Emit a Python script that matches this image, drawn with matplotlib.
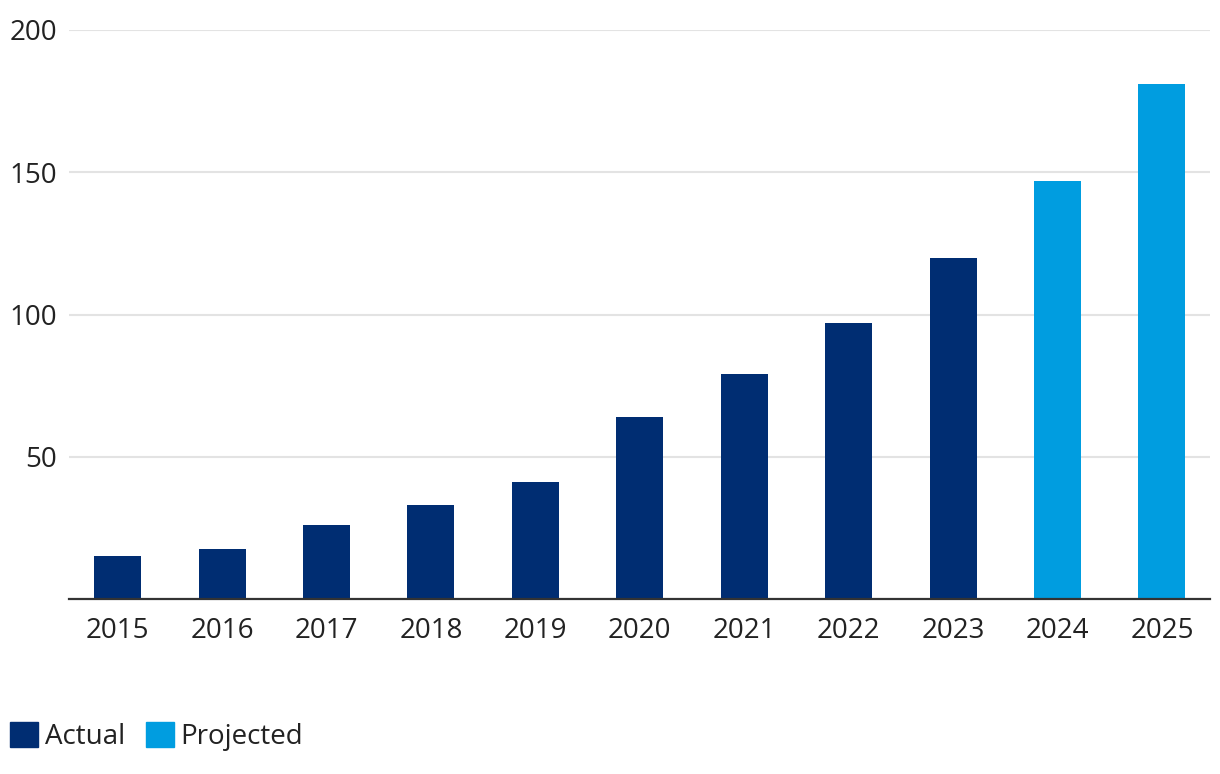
import matplotlib.pyplot as plt
from matplotlib.patches import Patch

plt.rcParams["font.family"] = ["Open Sans", "DejaVu Sans"]

years = ["2015", "2016", "2017", "2018", "2019", "2020",
         "2021", "2022", "2023", "2024", "2025"]
values = [15, 17.5, 26, 33, 41, 64, 79, 97, 120, 147, 181]
projected = [False] * 9 + [True] * 2
yticks = [50, 100, 150, 200]

NAVY = "#002D72"
LIGHT = "#009DE0"

fig = plt.figure(figsize=(12.2, 7.74), dpi=100)
ax = fig.add_axes([69 / 1220, 1 - 599 / 774, 1141 / 1220, 569 / 774])

colors = [LIGHT if p else NAVY for p in projected]
x = range(len(years))
ax.bar(x, values, width=0.45, color=colors, zorder=3)

ax.set_xlim(-0.465, len(years) - 1 + 0.46)
ax.set_ylim(0, 200)
ax.set_yticks(yticks)
ax.set_xticks(list(x))
ax.set_xticklabels(years)
ax.grid(axis="y", color="#e3e3e3", linewidth=1.5, zorder=0)
ax.tick_params(axis="both", length=0, labelsize=20, colors="#222222")
ax.tick_params(axis="y", pad=8.5)
ax.tick_params(axis="x", pad=13)
for side in ["top", "right", "left"]:
    ax.spines[side].set_visible(False)
ax.spines["bottom"].set_color("#333333")
ax.spines["bottom"].set_linewidth(1.6)
ax.spines["bottom"].set_zorder(4)

handles = [Patch(color=NAVY, label="Actual"), Patch(color=LIGHT, label="Projected")]
fig.legend(handles=handles, loc="lower left", bbox_to_anchor=(10 / 1220, 0.03),
           ncol=2, frameon=False, fontsize=20, handlelength=1.0,
           handleheight=1.0, handletextpad=0.25, columnspacing=0.75,
           borderpad=0, borderaxespad=0, labelcolor="#222222")

fig.savefig("out.png", dpi=100)
